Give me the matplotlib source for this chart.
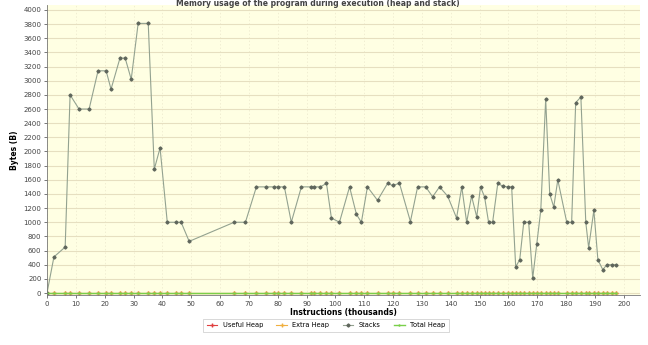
import numpy as np
import matplotlib
matplotlib.use("Agg")
import matplotlib.pyplot as plt


# instructions (thousands) and stack bytes
instr = [0, 2.4, 6.3, 8.0, 11.1, 14.6, 17.7, 20.5, 22.2, 25.3, 27.1, 29.2, 31.6, 35.1,
         37.2, 39.2, 41.7, 44.8, 46.5, 49.3, 64.9, 68.8, 72.6, 76.0, 78.8, 80.2, 82.3,
         84.7, 88.2, 91.7, 92.7, 94.8, 96.9, 98.6, 101.4, 104.9, 107.3, 109.0, 111.1,
         114.6, 118.1, 119.8, 122.2, 126.0, 128.5, 131.3, 133.7, 136.1, 138.9, 142.0,
         143.8, 145.5, 147.2, 149.0, 150.3, 151.7, 153.1, 154.5, 156.3, 158.0, 159.7,
         161.1, 162.5, 163.9, 165.3, 167.0, 168.4, 169.8, 171.2, 172.9, 174.3, 175.7,
         177.1, 180.2, 181.9, 183.3, 185.1, 186.8, 187.8, 189.6, 191.0, 192.7, 194.1,
         195.8, 197.2]
stacks = [0, 510, 650, 2800, 2600, 2600, 3140, 3140, 2880, 3320, 3320, 3020, 3810, 3810,
          1750, 2050, 1000, 1000, 1000, 730, 1000, 1000, 1500, 1500, 1500, 1500, 1500,
          1000, 1500, 1500, 1500, 1500, 1550, 1060, 1000, 1500, 1110, 1000, 1500,
          1310, 1550, 1520, 1550, 1010, 1500, 1500, 1360, 1500, 1370, 1060,
          1500, 1000, 1370, 1075, 1500, 1360, 1000, 1000, 1550, 1510, 1500,
          1500, 370, 470, 1000, 1000, 210, 690, 1170, 2740, 1400, 1215,
          1600, 1000, 1000, 2690, 2770, 1000, 640, 1170, 470, 330, 400,
          400, 400]
useful_heap = [0] * len(instr)
extra_heap = [0] * len(instr)
total_heap = [0] * len(instr)

x_ticks = list(range(0, 201, 10))
y_ticks = list(range(0, 4001, 200))

fig = plt.figure(figsize=(6.48, 3.45), dpi=100)
ax = fig.add_axes([47 / 648, 1 - 295 / 345, 593 / 648, 290 / 345])
ax.set_facecolor("#ffffe3")

ax.plot(instr, useful_heap, color="#e04040", lw=0.8, marker="+", ms=2.5, label="Useful Heap")
ax.plot(instr, extra_heap, color="#f0b040", lw=0.8, marker="+", ms=2.5, label="Extra Heap")
ax.plot(instr, stacks, color="#93a290", lw=0.8, marker="D", ms=1.6,
        mfc="#5f665c", mec="#5f665c", label="Stacks")
ax.plot(instr, total_heap, color="#7ad04a", lw=1.0, marker="+", ms=2.0, label="Total Heap")

ax.set_xlim(0, 205.6)
ax.set_ylim(-28, 4070)
ax.set_xticks(x_ticks)
ax.set_yticks(y_ticks)
ax.tick_params(labelsize=5, length=2, width=0.5, colors="#444444", pad=2)

ax.grid(axis="y", color="#e6dfc0", lw=0.8)
ax.grid(axis="x", color="#ebe7cc", lw=0.5, ls=(0, (2, 3)))
ax.set_axisbelow(True)
for s in ["top", "right"]:
    ax.spines[s].set_visible(False)
for s in ["left", "bottom"]:
    ax.spines[s].set_color("#777777")
    ax.spines[s].set_linewidth(0.6)

ax.set_xlabel("Instructions (thousands)", fontsize=5.5, fontweight="bold", labelpad=1)
ax.set_ylabel("Bytes (B)", fontsize=5.5, fontweight="bold", labelpad=3)
fig.text(0.49, 1.004, "Memory usage of the program during execution (heap and stack)",
         ha="center", va="top", fontsize=5.5, fontweight="bold", color="#444444")

leg = fig.legend(loc="center", bbox_to_anchor=(0.503, 0.057), ncol=4, fontsize=4.8,
                 frameon=True, fancybox=False, edgecolor="#bbbbbb", handlelength=1.6,
                 columnspacing=2.0, borderpad=0.5)
leg.get_frame().set_linewidth(0.5)

fig.savefig("out.png", dpi=100)
